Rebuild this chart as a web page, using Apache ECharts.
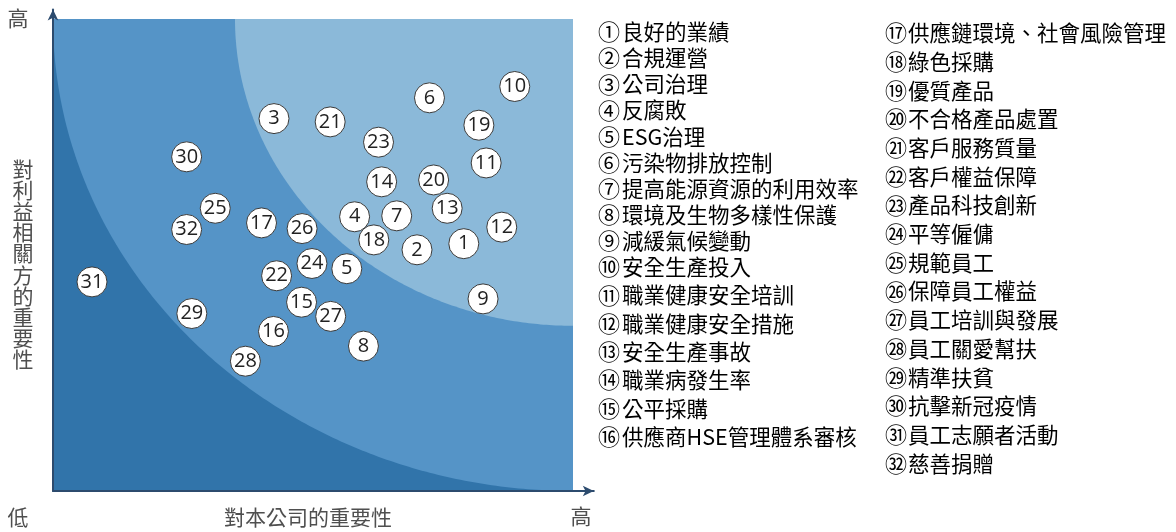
<!DOCTYPE html>
<html>
<head>
<meta charset="utf-8">
<script src="https://cdn.jsdelivr.net/npm/echarts@6/dist/echarts.min.js"></script>
<style>
  html, body { margin: 0; padding: 0; background: #ffffff; }
  #chart { width: 1176px; height: 532px; }
</style>
</head>
<body>
<div id="chart"></div>
<script>
// Materiality matrix: issue numbers, their scores on both axes, and issue names
const issueIds = [1, 2, 3, 4, 5, 6, 7, 8, 9, 10, 11, 12, 13, 14, 15, 16,
                  17, 18, 19, 20, 21, 22, 23, 24, 25, 26, 27, 28, 29, 30, 31, 32];

// importance to the company (x)
const companyScore = [79.0, 70.0, 42.5, 58.0, 56.5, 72.4, 66.1, 59.7, 82.7, 88.8, 83.3, 86.3, 75.8, 63.2, 47.8, 42.4,
                      40.1, 61.7, 81.9, 73.2, 53.3, 43.0, 62.6, 49.8, 31.2, 47.9, 53.4, 37.0, 26.7, 25.7, 7.5, 25.7];

// importance to stakeholders (y)
const stakeholderScore = [52.4, 51.1, 78.9, 58.1, 47.1, 83.3, 58.3, 30.7, 40.7, 85.7, 69.5, 55.9, 59.9, 65.5, 40.0, 33.8,
                          56.8, 53.2, 77.5, 65.9, 78.2, 45.6, 73.9, 48.2, 59.9, 55.6, 37.0, 27.5, 37.6, 70.8, 44.3, 55.4];

const issueNames = [
  '良好的業績', '合規運營', '公司治理', '反腐敗', 'ESG治理', '污染物排放控制',
  '提高能源資源的利用效率', '環境及生物多樣性保護', '減緩氣候變動', '安全生產投入',
  '職業健康安全培訓', '職業健康安全措施', '安全生產事故', '職業病發生率', '公平採購',
  '供應商HSE管理體系審核', '供應鏈環境、社會風險管理', '綠色採購', '優質產品', '不合格產品處置',
  '客戶服務質量', '客戶權益保障', '產品科技創新', '平等僱傭', '規範員工', '保障員工權益',
  '員工培訓與發展', '員工關愛幫扶', '精準扶貧', '抗擊新冠疫情', '員工志願者活動', '慈善捐贈'
];

// priority zones: quarter-circle radii measured from the top-right corner
const zoneRadii = [100, 65];

// axis end words and titles
const axisLow = '低';
const axisHigh = '高';
const xTitle = '對本公司的重要性';
const yTitle = '對利益相關方的重要性';

// ---- styling ----
const zoneFills = ['#5594c7', '#8bb9d9'];
const baseFill = '#3174aa';
const axisColor = '#2c4b6e';
const textColor = '#4f4f4f';
const cjkFont = '"Noto Sans CJK TC", "Noto Sans CJK SC", sans-serif';

function circled(n) {
  return n <= 20 ? String.fromCharCode(0x245F + n) : String.fromCharCode(0x3250 + n - 20);
}

const chart = echarts.init(document.getElementById('chart'), null, { renderer: 'canvas' });

const pxPerX = 5.2, pxPerY = 4.72;
const xMax = 104, yMax = 102;
const gridLeft = 53, gridBottomY = 491;

const points = issueIds.map((id, i) => [companyScore[i], stakeholderScore[i], id]);

// legend text, two columns; the circled number sits in a fixed-width box
const legendItems = issueIds.map((id, i) => {
  const col = i < 16 ? 0 : 1;
  const row = i % 16;
  let y;
  if (col === 0) {
    y = row <= 9 ? 32 + row * 26.1 : 32 + 9 * 26.1 + (row - 9) * 28.3;
  } else {
    y = 33 + row * 28.7;
  }
  return {
    type: 'text',
    x: col === 0 ? 598 : 885,
    y: y,
    silent: true,
    style: {
      text: '{n|' + circled(id) + '}{t|' + issueNames[i] + '}',
      rich: {
        n: { width: col === 0 ? 24 : 23, fontSize: 22, fontFamily: cjkFont, color: '#444444' },
        t: { fontSize: 21.5, fontFamily: cjkFont, color: '#444444' }
      },
      textAlign: 'left',
      textVerticalAlign: 'middle'
    }
  };
});

const titleStyle = (text, x, y, extra) => ({
  type: 'text', x, y, silent: true,
  style: Object.assign({
    text, font: '21px ' + cjkFont, fill: textColor,
    textAlign: 'center', textVerticalAlign: 'middle'
  }, extra || {})
});

const option = {
  animation: false,
  grid: {
    left: gridLeft,
    top: gridBottomY - yMax * pxPerY,
    width: xMax * pxPerX,
    height: yMax * pxPerY,
    containLabel: false
  },
  xAxis: {
    type: 'value', min: 0, max: xMax, z: 10,
    axisLine: { show: true, lineStyle: { color: axisColor, width: 2 }, symbol: ['none', 'arrow'], symbolSize: [8, 11] },
    axisTick: { show: false }, axisLabel: { show: false }, splitLine: { show: false }
  },
  yAxis: {
    type: 'value', min: 0, max: yMax, z: 10,
    axisLine: { show: true, lineStyle: { color: axisColor, width: 2 }, symbol: ['none', 'arrow'], symbolSize: [8, 11] },
    axisTick: { show: false }, axisLabel: { show: false }, splitLine: { show: false }
  },
  graphic: [
    titleStyle(axisHigh, 18, 18),
    titleStyle(axisLow, 18, 517),
    titleStyle(axisHigh, 581, 516),
    titleStyle(xTitle, 308, 517),
    titleStyle(yTitle.split('').join('\n'), 23, 264, { lineHeight: 21.2 })
  ].concat(legendItems),
  series: [
    {
      // base square of the matrix
      type: 'custom',
      silent: true,
      z: 1,
      data: [[0, 0, 100, 100]],
      renderItem: function (params, api) {
        const p0 = api.coord([api.value(0), api.value(3)]);
        const p1 = api.coord([api.value(2), api.value(1)]);
        return {
          type: 'rect',
          shape: { x: p0[0], y: p0[1], width: p1[0] - p0[0], height: p1[1] - p0[1] },
          style: { fill: baseFill }
        };
      }
    },
    {
      // priority bands around the top-right corner
      type: 'custom',
      silent: true,
      z: 1,
      data: zoneRadii.map(r => [r]),
      renderItem: function (params, api) {
        const r = api.value(0);
        const pts = [api.coord([100, 100])];
        for (let k = 0; k <= 180; k++) {
          const a = (k / 180) * Math.PI / 2;
          pts.push(api.coord([100 - r * Math.cos(a), 100 - r * Math.sin(a)]));
        }
        return {
          type: 'polygon',
          shape: { points: pts },
          style: { fill: zoneFills[params.dataIndex] }
        };
      }
    },
    {
      type: 'scatter',
      z: 3,
      data: points,
      symbol: 'circle',
      symbolSize: 30,
      itemStyle: { color: '#ffffff', borderColor: '#3a3a3a', borderWidth: 1, opacity: 1 },
      label: {
        show: true,
        position: 'inside',
        formatter: p => String(p.value[2]),
        fontFamily: '"Open Sans", "Noto Sans", sans-serif',
        fontSize: 20,
        color: '#222222'
      },
      emphasis: { disabled: true }
    }
  ]
};

chart.setOption(option);
</script>
</body>
</html>
